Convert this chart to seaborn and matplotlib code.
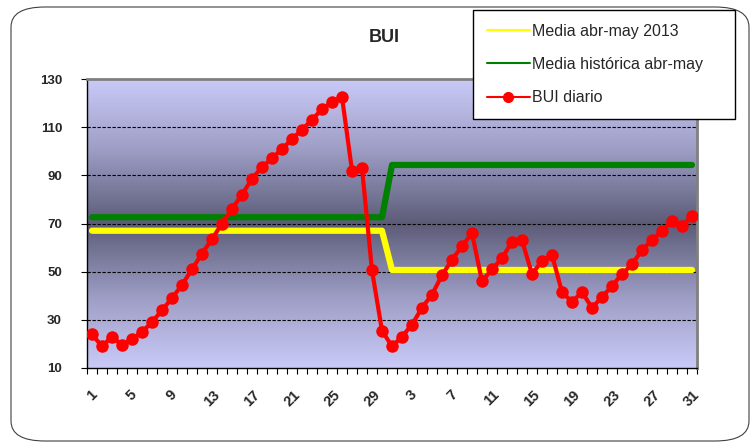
import matplotlib
matplotlib.use('Agg')
import matplotlib.pyplot as plt
import seaborn as sns
import numpy as np
import pandas as pd
from matplotlib.colors import LinearSegmentedColormap
from matplotlib.patches import FancyBboxPatch
from matplotlib.lines import Line2D

# dias abril (1-30) y mayo (1-31)
dias = [str(d) for d in range(1, 31)] + [str(d) for d in range(1, 32)]
n_abril, n_mayo = 30, 31

bui_diario = [24, 19, 23, 19.5, 22, 25, 29, 34, 39, 44.5, 51, 57.5, 63.5, 70, 76, 82,
              88.5, 93.5, 97, 101, 105, 109, 113, 117.5, 120.5, 122.5, 92, 93, 50.5, 25.5,
              19, 23, 28, 35, 40.5, 48.5, 55, 60.5, 66, 46, 51, 55.5, 62.5, 63, 49,
              54.5, 57, 41.5, 37.5, 41.5, 35, 39.5, 44, 49, 53, 59, 63, 67, 71, 69, 73]
media_2013 = [67.0, 50.7]      # abril, mayo
media_historica = [72.6, 94.3]  # abril, mayo

df = pd.DataFrame({
    'idx': np.arange(len(dias)),
    'dia': dias,
    'bui': bui_diario,
    'media_2013': [media_2013[0]] * n_abril + [media_2013[1]] * n_mayo,
    'media_hist': [media_historica[0]] * n_abril + [media_historica[1]] * n_mayo,
})

sns.set_style('white')
plt.rcParams['font.family'] = ['Liberation Sans', 'DejaVu Sans']

fig = plt.figure(figsize=(7.55, 4.46), dpi=100)
ax = fig.add_axes([87/755, 1 - 368/446, 610/755, 289/446])

# fondo degradado
cmap = LinearSegmentedColormap.from_list('bg', ['#cacaf8', '#9c9cc4', '#5c5c78', '#9c9cc4', '#cacaf8'])
grad = np.linspace(0, 1, 256).reshape(-1, 1)
ax.imshow(grad, cmap=cmap, aspect='auto', extent=(-0.5, 60.5, 10, 130), zorder=0)

sns.lineplot(data=df, x='idx', y='media_2013', ax=ax, color='#ffff00', lw=4.5,
             solid_capstyle='round', zorder=3)
sns.lineplot(data=df, x='idx', y='media_hist', ax=ax, color='#008000', lw=4.5,
             solid_capstyle='round', zorder=3)
sns.lineplot(data=df, x='idx', y='bui', ax=ax, color='#ff0000', lw=3, marker='o',
             markersize=9, markeredgewidth=0, zorder=4)

ax.set_xlim(-0.5, 60.5)
ax.set_ylim(10, 130)
ax.set_yticks(range(10, 131, 20))
ax.set_yticklabels([str(v) for v in range(10, 131, 20)], fontsize=9.5, fontweight='bold')
for v in range(30, 111, 20):
    ax.axhline(v, color='black', lw=0.8, ls=(0, (3, 1.5)), zorder=2)

ax.set_xticks(df['idx'][::4])
ax.set_xticklabels(df['dia'][::4], rotation=45, fontsize=10.5, fontweight='bold')
ax.set_xticks(np.arange(-0.5, 61, 1), minor=True)
ax.tick_params(axis='x', which='major', length=0, pad=14)
ax.tick_params(axis='x', which='minor', length=4, width=0.8, color='black', bottom=True)
ax.tick_params(axis='y', length=4, width=0.8, color='black', left=True, pad=14)
ax.set_xlabel('')
ax.set_ylabel('')

for s in ['left', 'bottom']:
    ax.spines[s].set_color('black')
    ax.spines[s].set_linewidth(1)
for s in ['top', 'right']:
    ax.spines[s].set_color('#808080')
    ax.spines[s].set_linewidth(2)

fig.text(384/755, 1 - 38/446, 'BUI', ha='center', va='center', fontsize=13, fontweight='bold')

# borde redondeado del grafico
fig.patches.append(FancyBboxPatch((11/755, 5/446), 738/755, 434/446,
                                  boxstyle='round,pad=0,rounding_size=0.045',
                                  transform=fig.transFigure, fill=False,
                                  edgecolor='#404040', lw=0.8, zorder=-1))

handles = [Line2D([], [], color='#ffff00', lw=1.5),
           Line2D([], [], color='#008000', lw=1.5),
           Line2D([], [], color='#ff0000', lw=1.5, marker='o', markersize=7)]
labels = ['Media abr-may 2013', 'Media histórica abr-may', 'BUI diario']
leg = fig.legend(handles, labels, loc='upper left',
                 bbox_to_anchor=(473/755, 1 - 115/446, 262/755, 105/446), mode='expand',
                 frameon=True, fancybox=False, fontsize=11.5, labelspacing=1.15,
                 handlelength=2.7, handletextpad=0.15, borderpad=0.85, borderaxespad=0)
leg.get_frame().set_edgecolor('black')
leg.get_frame().set_linewidth(1)
leg.get_frame().set_alpha(1)
leg.set_zorder(10)

fig.savefig('out.png', dpi=100)
